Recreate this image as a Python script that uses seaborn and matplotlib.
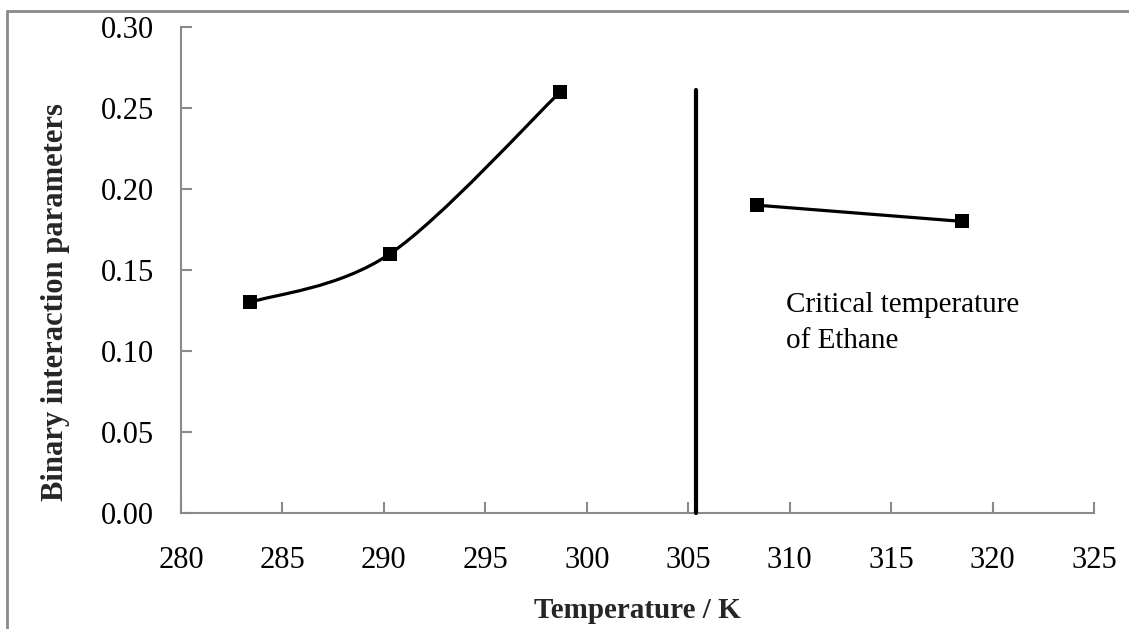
import numpy as np
import pandas as pd
import matplotlib
matplotlib.use("Agg")
import matplotlib.pyplot as plt
from matplotlib.path import Path
from matplotlib.patches import PathPatch
from matplotlib.lines import Line2D
import seaborn as sns

# ---- data ----
temp_below = [283.4, 290.3, 298.7]
kij_below = [0.13, 0.16, 0.26]
temp_above = [308.4, 318.5]
kij_above = [0.19, 0.18]
crit_temp = [305.4, 305.4]
crit_line_y = [0.0, 0.261]
x_ticks = [280, 285, 290, 295, 300, 305, 310, 315, 320, 325]
y_ticks = [0.00, 0.05, 0.10, 0.15, 0.20, 0.25, 0.30]
annotation = "Critical temperature\nof Ethane"

sns.set_theme(style="white")
plt.rcParams["font.family"] = ["Liberation Serif", "DejaVu Serif"]

W, H = 1129, 629
fig = plt.figure(figsize=(W / 100, H / 100), dpi=100)
ax = fig.add_axes([181 / W, 1 - 513 / H, (1094 - 181) / W, (513 - 27) / H])

grey = "#8a8a8a"

# smooth (Catmull-Rom / Bezier) curve through the points below Tc
pts = np.column_stack([temp_below, kij_below])
verts = [tuple(pts[0])]
codes = [Path.MOVETO]
n = len(pts)
for i in range(n - 1):
    p0 = pts[i - 1] if i > 0 else pts[i]
    p1 = pts[i]
    p2 = pts[i + 1]
    p3 = pts[i + 2] if i + 2 < n else pts[i + 1]
    c1 = p1 + (p2 - p0) / 6.0
    c2 = p2 - (p3 - p1) / 6.0
    verts += [tuple(c1), tuple(c2), tuple(p2)]
    codes += [Path.CURVE4, Path.CURVE4, Path.CURVE4]
ax.add_patch(PathPatch(Path(verts, codes), facecolor="none", edgecolor="black",
                       linewidth=2.3, zorder=3))

df_below = pd.DataFrame({"T": temp_below, "k": kij_below})
sns.scatterplot(data=df_below, x="T", y="k", marker="s", s=110, color="black",
                edgecolor="black", linewidth=0, ax=ax, zorder=4)

df_above = pd.DataFrame({"T": temp_above, "k": kij_above})
sns.lineplot(data=df_above, x="T", y="k", marker="s", markersize=10.5, color="black",
             linewidth=2.3, markeredgewidth=0, ax=ax, zorder=4)

# critical temperature line
ax.plot(crit_temp, crit_line_y, color="black", linewidth=3.0,
        solid_capstyle="round", clip_on=False, zorder=5)

ax.text(309.8, 0.1019, annotation, fontsize=21, ha="left", va="baseline",
        linespacing=1.5, color="black")

ax.set_xlim(280, 325)
ax.set_ylim(0, 0.30)
ax.set_xticks(x_ticks)
ax.set_yticks(y_ticks)
ax.set_xticklabels([str(t) for t in x_ticks])
ax.set_yticklabels([f"{t:.2f}" for t in y_ticks])
ax.tick_params(axis="both", direction="in", length=8, width=1.5, color=grey,
               labelsize=22, labelcolor="black")
ax.tick_params(axis="y", pad=19.5)
ax.tick_params(axis="x", pad=24, top=False)
ax.tick_params(axis="y", right=False)
ax.tick_params(axis="x", bottom=True)
ax.tick_params(axis="y", left=True)
for side in ["top", "right"]:
    ax.spines[side].set_visible(False)
for side in ["left", "bottom"]:
    ax.spines[side].set_color(grey)
    ax.spines[side].set_linewidth(1.5)
ax.set_xlabel("")
ax.set_ylabel("")
ax.set_facecolor("white")

fig.text(637 / W, 1 - 610 / H, "Temperature / K", fontsize=21, fontweight="bold",
         ha="center", va="center")
fig.text(56 / W, 1 - 302 / H, "Binary interaction parameters", fontsize=22,
         fontweight="bold", rotation=90, ha="center", va="center")

# outer frame (left and top visible)
fig.add_artist(Line2D([7 / W, 7 / W], [0, 1 - 11 / H], transform=fig.transFigure,
                      color=grey, linewidth=2))
fig.add_artist(Line2D([7 / W, 1], [1 - 11 / H, 1 - 11 / H], transform=fig.transFigure,
                      color=grey, linewidth=2))

fig.savefig("out.png", dpi=100, facecolor="white")
